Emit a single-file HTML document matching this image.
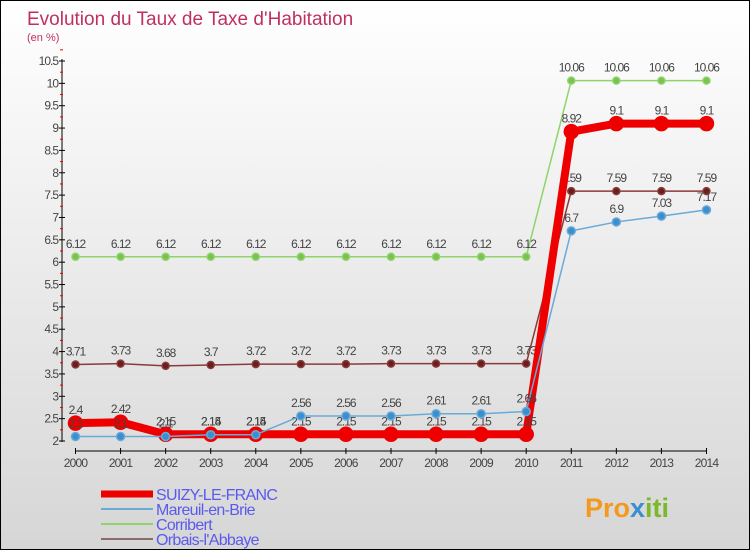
<!DOCTYPE html>
<html><head><meta charset="utf-8"><style>
body{margin:0}
#wrap{width:748px;height:548px;border:1px solid #000;background:linear-gradient(#fff,#d6d6d6);position:relative;font-family:"Liberation Sans",sans-serif;overflow:hidden}
</style></head><body>
<div id="wrap">
<svg id="svg" width="748" height="548" font-family="Liberation Sans, sans-serif">
<text x="26" y="24" font-size="19" fill="#c0305e">Evolution du Taux de Taxe d'Habitation</text>
<text x="26" y="40" font-size="11" fill="#c0305e">(en %)</text>
<text x="584" y="516" font-size="27" font-weight="bold" fill="#f39a1e">Pro<tspan fill="#3a8fd0">x</tspan><tspan fill="#7ab929">iti</tspan></text>
</svg>
</div>
<script>
const years=[2000,2001,2002,2003,2004,2005,2006,2007,2008,2009,2010,2011,2012,2013,2014];
const yTicks=[2,2.5,3,3.5,4,4.5,5,5.5,6,6.5,7,7.5,8,8.5,9,9.5,10,10.5];
const suizy=[2.4,2.42,2.15,2.15,2.15,2.15,2.15,2.15,2.15,2.15,2.15,8.92,9.1,9.1,9.1];
const mareuil=[2.1,2.1,2.1,2.14,2.14,2.56,2.56,2.56,2.61,2.61,2.66,6.7,6.9,7.03,7.17];
const corribert=[6.12,6.12,6.12,6.12,6.12,6.12,6.12,6.12,6.12,6.12,6.12,10.06,10.06,10.06,10.06];
const orbais=[3.71,3.73,3.68,3.7,3.72,3.72,3.72,3.73,3.73,3.73,3.73,7.59,7.59,7.59,7.59];
const names=["SUIZY-LE-FRANC","Mareuil-en-Brie","Corribert","Orbais-l'Abbaye"];
const NS="http://www.w3.org/2000/svg",svg=document.getElementById('svg');
const X=i=>74.5+i*45.07, Y=v=>440-(v-2)*(380/8.5);
function el(t,a,p){const e=document.createElementNS(NS,t);for(const k in a)e.setAttribute(k,a[k]);(p||svg).appendChild(e);return e;}
const ya=el('line',{x1:61,y1:58,x2:61,y2:441,stroke:'#000'});


const xa=el('line',{x1:74,y1:450,x2:706,y2:450,stroke:'#000'});


yTicks.forEach(v=>{
 el('line',{x1:58,x2:64,y1:Y(v),y2:Y(v),stroke:'#000'});
 el('line',{x1:59,x2:62,y1:Y(v+0.25),y2:Y(v+0.25),stroke:'#e00'});
 const t=el('text',{x:57,y:Y(v)+4,'font-size':12,'text-anchor':'end',fill:'#444','letter-spacing':'-1'});
 t.textContent=String(v);
 
 
});
years.forEach((y,i)=>{
 el('line',{x1:X(i),x2:X(i),y1:447,y2:453,stroke:'#000'});
 const t=el('text',{x:X(i),y:466,'font-size':12,'text-anchor':'middle',fill:'#444','letter-spacing':'-0.8'});
 t.textContent=y;
 
 
});
function series(data,col,w,r,mfill,name,labels){
 const p=el('polyline',{points:data.map((v,i)=>X(i)+','+Y(v)).join(' '),fill:'none',stroke:col,'stroke-width':w,'stroke-linejoin':'round'});
 
 
 data.forEach((v,i)=>{
  const c=el('circle',{cx:X(i),cy:Y(v),r:r,fill:mfill,stroke:col,'stroke-width':1.5});
  
  
  if(labels){const t=el('text',{x:X(i),y:Y(v)-9,'font-size':12,'text-anchor':'middle',fill:'#444','letter-spacing':'-1'});
  t.textContent=String(v);
  
  }
 });
}
series(corribert,'#8ed46a',1.5,3.5,'#7ac150','corribert',true);
series(orbais,'#8a3a3a',1.5,3.5,'#6a1e1e','orbais',true);
series(suizy,'#ee0000',8,7,'#ee0000','suizy',true);
series(mareuil,'#6aaad6',1.5,4,'#3a8fd0','mareuil',true);
const lc=['#ee0000','#6aaad6','#8ed46a','#8a6a6a'],lw=[7,2,2,2];
names.forEach((n,i)=>{
 const yy=493+i*15;
 const l=el('line',{x1:100,x2:152,y1:yy,y2:yy,stroke:lc[i],'stroke-width':lw[i]});
 
 
 const t=el('text',{x:155,y:yy+6,'font-size':16,fill:'#5a5aee','letter-spacing':'-0.7'});
 t.textContent=n;
 
 
});
</script>
</body></html>
